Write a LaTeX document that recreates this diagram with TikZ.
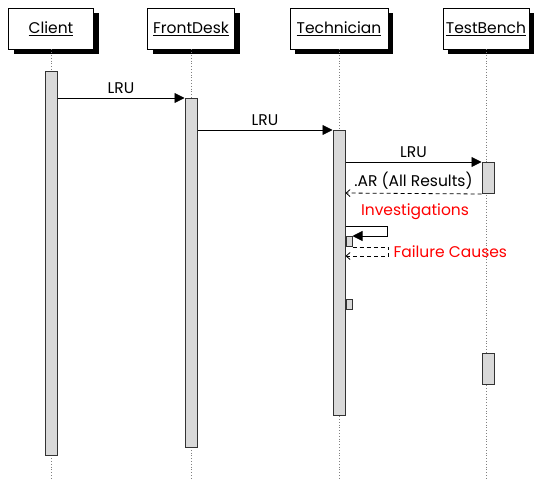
\documentclass[tikz,border=0pt]{standalone}
\usepackage{fontspec}
\setmainfont{Poppins}
\usetikzlibrary{arrows.meta}
\tikzset{
  head/.style={draw, fill=white, line width=0.8pt, minimum height=41pt, inner sep=2pt},
  life/.style={gray, dotted, line width=0.8pt},
  act/.style={draw=black!80, fill=gray!30, line width=1pt, inner sep=0pt, minimum width=12pt, anchor=north},
  msg/.style={line width=0.8pt, -{Triangle[length=10pt,width=10pt]}},
  ret/.style={line width=0.8pt, dash pattern=on 4pt off 3pt, -{Straight Barb[length=4pt,width=7pt]}},
  lbl/.style={above, inner sep=3.5pt},
  note/.style={text=red}
}
\begin{document}
\begin{tikzpicture}[x=1pt, y=-1pt, font=\fontsize{15.5}{18}\selectfont]
\useasboundingbox (0,0) rectangle (535,480);
% heads with shadow
\foreach \nm/\xc/\w/\txt in {client/51/85/Client, desk/191/87/FrontDesk, tech/339/98/Technician, bench/486/86/TestBench}{
  \fill (\xc-\w/2+5,13) rectangle (\xc+\w/2+5,54);
  \node[head, minimum width=\w pt] (\nm) at (\xc,28.5) {\underline{\txt}};
}
% lifelines
\foreach \nm in {client, desk, tech, bench}
  \draw[life] (\nm.south) -- (\nm.south |- 0,480);
% activations
\node[act, minimum height=384pt] (a1) at (51,71) {};
\node[act, minimum height=349pt] (a2) at (191,98) {};
\node[act, minimum height=285pt] (a3) at (339,130) {};
\node[act, minimum height=31pt] (a4) at (488,162) {};
\node[act, minimum height=31pt] (a7) at (488,353) {};
\node[act, minimum width=6pt, minimum height=10pt, anchor=north west] (a5) at (a3.east |- 0,236) {};
\node[act, minimum width=6pt, minimum height=10pt, anchor=north west] (a6) at (a3.east |- 0,299) {};
% messages
\draw[msg] (a1.east |- 0,98) -- node[lbl] {LRU} (a2.north west);
\draw[msg] (a2.east |- 0,130) -- node[lbl] {LRU} (a3.north west);
\draw[msg] (a3.east |- 0,162) -- node[lbl] {LRU} (a4.north west);
\draw[ret] (a4.south west) -- node[lbl] {.AR (All Results)} (a3.east |- 0,193);
\node[note] (inv) at (415,212) {Investigations};
\draw[msg] (a3.east |- 0,226) -- ++(42,0) |- (a5.north east);
\draw[ret] (a5.south east) -- ++(36,0) |- (a3.east |- 0,256);
\node[note, anchor=west] (fail) at (390,252) {Failure Causes};
\end{tikzpicture}
\end{document}
